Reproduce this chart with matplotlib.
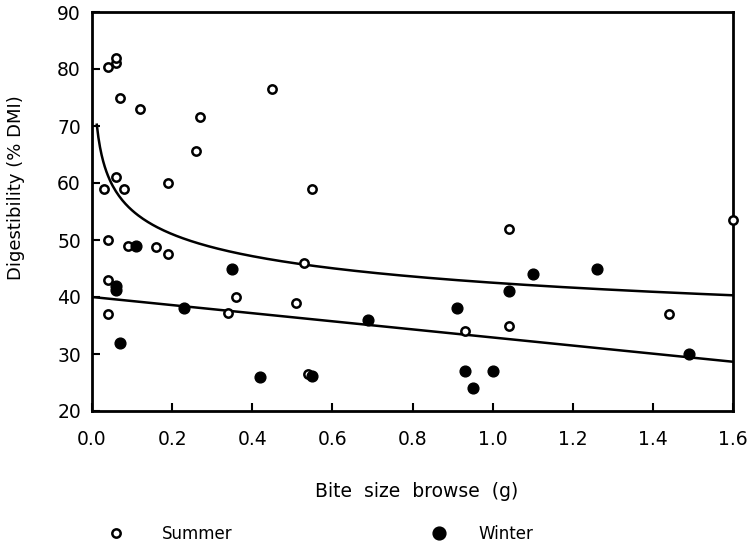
import matplotlib
matplotlib.use("Agg")
import matplotlib.pyplot as plt
import numpy as np

# Summer (open circles)
summer_x = [0.03, 0.04, 0.06, 0.06, 0.07, 0.06, 0.08, 0.12, 0.04, 0.09, 0.16, 0.19, 0.19,
            0.26, 0.27, 0.45, 0.55, 0.53, 0.51, 0.36, 0.34, 0.04, 0.04, 0.54, 0.93, 1.04,
            1.04, 1.44, 1.60]
summer_y = [59.0, 80.3, 81.0, 82.0, 75.0, 61.0, 59.0, 73.0, 50.0, 49.0, 48.7, 47.5, 60.0,
            65.7, 71.5, 76.5, 59.0, 46.0, 39.0, 40.0, 37.2, 43.0, 37.0, 26.5, 34.0, 52.0,
            35.0, 37.0, 53.5]

# Winter (filled circles)
winter_x = [0.11, 0.06, 0.06, 0.07, 0.23, 0.35, 0.42, 0.55, 0.69, 0.91, 0.93, 0.95, 1.00,
            1.04, 1.10, 1.26, 1.49]
winter_y = [49.0, 42.0, 41.2, 32.0, 38.0, 45.0, 26.0, 26.2, 36.0, 38.0, 27.0, 24.0, 27.0,
            41.0, 44.0, 45.0, 30.0]

# fitted curves (coefficients)
summer_fit = dict(a=40.3 * 1.6 ** 0.1135, b=-0.1135, xmin=0.012, xmax=1.6)   # y = a * x^b
winter_fit = dict(intercept=40.0, slope=-7.1, xmin=0.0, xmax=1.6)           # y = intercept + slope*x

xticks = [0.0, 0.2, 0.4, 0.6, 0.8, 1.0, 1.2, 1.4, 1.6]
xticklabels = ["0.0", "0.2", "0.4", "0.6", "0.8", "1.0", "1.2", "1.4", "1.6"]
yticks = [20, 30, 40, 50, 60, 70, 80, 90]

plt.rcParams['font.family'] = ['DejaVu Sans']
fig = plt.figure(figsize=(7.52, 5.48), dpi=100)
ax = fig.add_axes([92 / 752, 137 / 548, (733 - 92) / 752, (411 - 12) / 548])

xs = np.linspace(summer_fit['xmin'], summer_fit['xmax'], 400)
ax.plot(xs, summer_fit['a'] * xs ** summer_fit['b'], color='black', lw=1.8)
xw = np.linspace(winter_fit['xmin'], winter_fit['xmax'], 2)
ax.plot(xw, winter_fit['intercept'] + winter_fit['slope'] * xw, color='black', lw=1.8)

ax.scatter(summer_x, summer_y, s=36, facecolors='white', edgecolors='black', linewidths=1.8, zorder=3, clip_on=False)
ax.scatter(winter_x, winter_y, s=60, facecolors='black', edgecolors='black', linewidths=1, zorder=3, clip_on=False)

ax.set_xlim(0, 1.6)
ax.set_ylim(20, 90)
ax.set_xticks(xticks)
ax.set_xticklabels(xticklabels)
ax.set_yticks(yticks)
ax.tick_params(direction='in', length=6, width=1.5, labelsize=13.5)
ax.tick_params(axis='x', pad=14)
ax.tick_params(axis='y', pad=8)
for s in ax.spines.values():
    s.set_linewidth(2)

ax.set_xlabel("Bite  size  browse  (g)", fontsize=13.5)
ax.xaxis.set_label_coords((417 - 92) / 641, -(482 - 411) / 399)
ax.set_ylabel("Digestibility (% DMI)", fontsize=13)
ax.yaxis.set_label_coords((25 - 92) / 641, (411 - 188) / 399)

# legend below
lx = fig.add_axes([0, 0, 1, 1], facecolor='none')
lx.set_xlim(0, 752)
lx.set_ylim(548, 0)
lx.axis('off')
lx.scatter([116], [533], s=36, facecolors='white', edgecolors='black', linewidths=1.8)
lx.text(162, 534, "Summer", fontsize=12, va='center', ha='left')
lx.scatter([439], [533], s=85, facecolors='black', edgecolors='black')
lx.text(478, 534, "Winter", fontsize=12, va='center', ha='left')

fig.savefig("out.png", dpi=100)
